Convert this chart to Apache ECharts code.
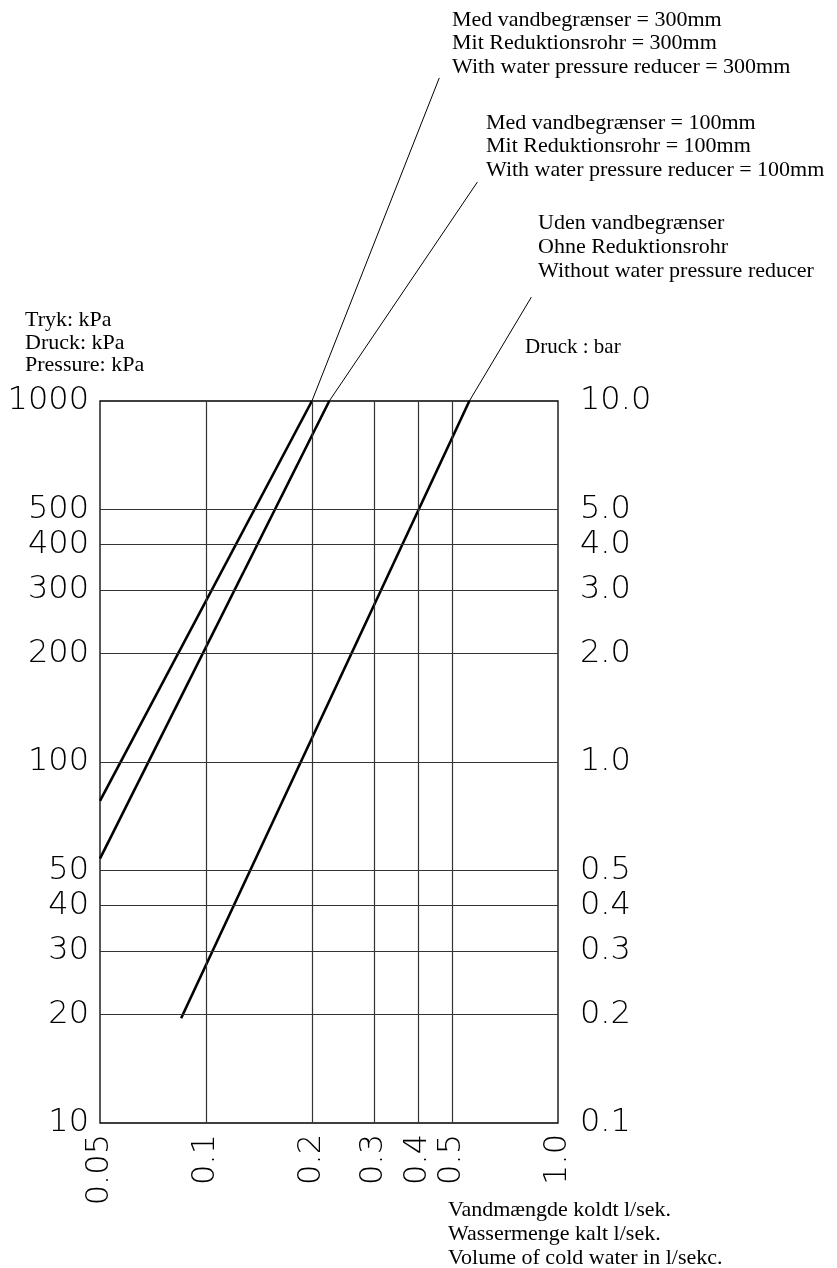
<!DOCTYPE html>
<html>
<head>
<meta charset="utf-8">
<script src="https://cdn.jsdelivr.net/npm/echarts@6/dist/echarts.min.js"></script>
<style>
html, body { margin: 0; padding: 0; background: #fff; }
#chart { width: 837px; height: 1268px; }
</style>
</head>
<body>
<div id="chart"></div>
<script>
// flow in l/sek (x) against pressure in kPa (y), both log
const flowTicks = [0.05, 0.1, 0.2, 0.3, 0.4, 0.5, 1.0];
const kpaTicks = [10, 20, 30, 40, 50, 100, 200, 300, 400, 500, 1000];
const barTicks = [0.1, 0.2, 0.3, 0.4, 0.5, 1.0, 2.0, 3.0, 4.0, 5.0, 10.0];
const flowGrid = [0.1, 0.2, 0.3, 0.4, 0.5];
const kpaGrid = [20, 30, 40, 50, 100, 200, 300, 400, 500];

// with reducer 300mm
const flow300 = [0.05, 0.2];
const kpa300 = [78, 1000];
// with reducer 100mm
const flow100 = [0.05, 0.224];
const kpa100 = [54, 1000];
// without reducer
const flowFree = [0.085, 0.56];
const kpaFree = [19.5, 1000];

// leader lines up to the captions (run outside the plot)
const lead300 = [[0.2, 1000], [0.46, 7850]];
const lead100 = [[0.224, 1000], [0.59, 4040]];
const leadFree = [[0.56, 1000], [0.84, 1940]];

const pairs = (xs, ys) => xs.map((x, i) => [x, ys[i]]);

const labelFont = {
  fontFamily: 'DejaVu Sans',
  fontWeight: 200,
  fontSize: 32,
  color: '#000'
};
const serif = '22px "Liberation Serif"';

const myChart = echarts.init(document.getElementById('chart'));

const curve = (data) => ({
  type: 'line',
  data: data,
  symbol: 'none',
  silent: true,
  lineStyle: { color: '#000', width: 2.6 }
});
const leader = (data) => ({
  type: 'line',
  data: data,
  symbol: 'none',
  silent: true,
  clip: false,
  lineStyle: { color: '#000', width: 1 }
});

const first = curve(pairs(flow300, kpa300));
first.markLine = {
  silent: true,
  symbol: ['none', 'none'],
  label: { show: false },
  lineStyle: { color: '#333', width: 1.2, type: 'solid' },
  emphasis: { disabled: true },
  data: flowGrid.map(v => ({ xAxis: v })).concat(kpaGrid.map(v => ({ yAxis: v })))
};

const option = {
  backgroundColor: '#fff',
  animation: false,
  grid: {
    left: 100,
    right: 279,
    top: 401,
    bottom: 145,
    show: true,
    borderColor: '#000',
    borderWidth: 1.3
  },
  xAxis: {
    type: 'log',
    logBase: 10,
    min: 0.05,
    max: 1,
    axisLine: { show: false },
    axisTick: { show: false },
    splitLine: { show: false },
    minorSplitLine: { show: false },
    axisLabel: Object.assign({
      customValues: flowTicks,
      rotate: 90,
      margin: 11,
      formatter: v => (v >= 0.999 ? '1.0' : String(+v.toPrecision(2)))
    }, labelFont)
  },
  yAxis: [
    {
      type: 'log',
      logBase: 10,
      min: 10,
      max: 1000,
      axisLine: { show: false },
      axisTick: { show: false },
      splitLine: { show: false },
      axisLabel: Object.assign({
        customValues: kpaTicks,
        margin: 11,
        formatter: v => String(Math.round(v))
      }, labelFont)
    },
    {
      type: 'log',
      logBase: 10,
      min: 0.1,
      max: 10,
      position: 'right',
      axisLine: { show: false },
      axisTick: { show: false },
      splitLine: { show: false },
      axisLabel: Object.assign({
        customValues: barTicks,
        margin: 22,
        formatter: v => (+v).toFixed(1)
      }, labelFont)
    }
  ],
  series: [
    first,
    curve(pairs(flow100, kpa100)),
    curve(pairs(flowFree, kpaFree)),
    leader(lead300),
    leader(lead100),
    leader(leadFree)
  ],
  graphic: [
    { type: 'text', left: 25, top: 309, style: { text: 'Tryk: kPa\nDruck: kPa\nPressure: kPa', font: serif, lineHeight: 22.5, fill: '#000' } },
    { type: 'text', left: 452, top: 8, style: { text: 'Med vandbegrænser = 300mm\nMit Reduktionsrohr = 300mm\nWith water pressure reducer = 300mm', font: serif, lineHeight: 23.5, fill: '#000' } },
    { type: 'text', left: 486, top: 111, style: { text: 'Med vandbegrænser = 100mm\nMit Reduktionsrohr = 100mm\nWith water pressure reducer = 100mm', font: serif, lineHeight: 23.5, fill: '#000' } },
    { type: 'text', left: 538, top: 211, style: { text: 'Uden vandbegrænser\nOhne Reduktionsrohr\nWithout water pressure reducer', font: serif, lineHeight: 24, fill: '#000' } },
    { type: 'text', left: 525, top: 337, style: { text: 'Druck : bar', font: '21px "Liberation Serif"', fill: '#000' } },
    { type: 'text', left: 448, top: 1198, style: { text: 'Vandmængde koldt l/sek.\nWassermenge kalt l/sek.\nVolume of cold water in l/sekc.', font: serif, lineHeight: 24, fill: '#000' } }
  ]
};

myChart.setOption(option);
</script>
</body>
</html>
